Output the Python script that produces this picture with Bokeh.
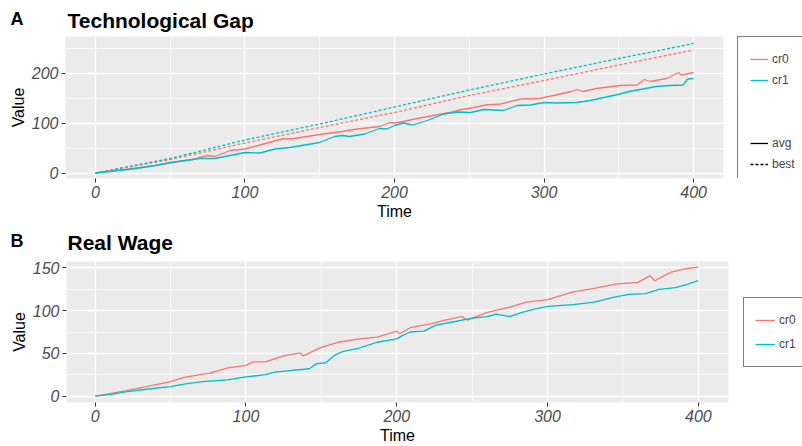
from bokeh.plotting import figure
from bokeh.models import Legend, LegendItem, Label, SingleIntervalTicker, Range1d, Spacer
from bokeh.layouts import column, row
from bokeh.embed import file_html
from bokeh.resources import INLINE

# ---- Panel A: Technological Gap ----
gap_avg_cr0_t = [0, 10, 25, 40, 50, 65, 75, 80, 90, 100, 110, 125, 133, 150, 165, 175, 190, 197, 200,
                 206, 215, 226, 237, 245, 253, 261, 271, 284, 297, 308, 318, 322, 326, 335, 351, 362,
                 367, 371, 382, 390, 392, 400]
gap_avg_cr0_v = [0, 4, 9, 15, 20, 27, 35, 33, 45, 48, 56, 68, 69, 77, 83, 88, 93, 101, 100,
                 103, 109, 115, 121, 127, 131, 136, 138, 148, 149, 156, 163, 167, 163, 169, 175, 176,
                 187, 183, 189, 201, 196, 201]
gap_avg_cr1_t = [0, 10, 25, 40, 50, 60, 70, 80, 90, 100, 110, 120, 130, 140, 150, 160, 165, 170, 180,
                 190, 195, 200, 206, 212, 222, 233, 242, 251, 260, 273, 282, 291, 300, 308, 322, 331,
                 340, 348, 357, 366, 375, 384, 393, 396, 400]
gap_avg_cr1_v = [0, 3, 8, 15, 21, 25, 29, 29, 35, 41, 40, 48, 51, 56, 61, 73, 75, 73, 78,
                 89, 88, 95, 100, 96, 105, 118, 122, 121, 127, 125, 135, 136, 141, 140, 141, 145,
                 151, 156, 163, 168, 173, 175, 176, 188, 189]
gap_best_t = [0, 50, 100, 150, 200, 250, 300, 350, 400]
gap_best_cr0_v = [0, 27, 60, 91, 121, 155, 185, 216, 246]
gap_best_cr1_v = [0, 29, 66, 98, 132, 166, 198, 229, 259]

# ---- Panel B: Real Wage ----
wage_cr0_t = [0, 20, 34, 50, 59, 76, 88, 100, 105, 113, 125, 136, 138, 150, 161, 175, 187, 200, 202,
              209, 224, 232, 243, 247, 260, 275, 286, 300, 317, 331, 345, 360, 368, 371, 382, 391, 400]
wage_cr0_v = [0, 6, 11, 17, 22, 27, 33, 36, 40, 40, 47, 50.5, 47, 57, 63, 67, 69, 76, 73,
              80, 85, 89, 93, 89, 98, 104, 110, 113, 122, 126, 131, 133, 141, 135, 145, 149, 151]
wage_cr1_t = [0, 11, 20, 34, 50, 59, 71, 88, 100, 113, 119, 142, 147, 153, 159, 164, 175, 187, 200,
              204, 209, 218, 226, 238, 249, 260, 266, 275, 283, 292, 300, 317, 331, 345, 354, 365,
              374, 385, 393, 400]
wage_cr1_v = [0, 2, 5, 8, 11, 14, 17, 19, 22.5, 25, 28, 32, 38, 39, 48, 52, 56, 63, 67,
              71, 75, 76, 83, 87, 91, 93, 96, 93, 98, 102, 105, 107, 110, 116, 119, 120,
              125, 127, 131, 135]

series_names = ["cr0", "cr1"]
type_names = ["avg", "best"]
COL = {"cr0": "#F8766D", "cr1": "#00BFC4"}
FONT = "Liberation Sans"
LW = 1.3
DASH = "3 2"
OFF = [-10, -9]  # key-only renderers sit outside the (0, 1) range of legend canvases


def style(p, y_interval):
    p.background_fill_color = "#EBEBEB"
    p.border_fill_color = "white"
    p.outline_line_color = None
    p.xaxis.ticker = SingleIntervalTicker(interval=100, num_minor_ticks=2)
    p.yaxis.ticker = SingleIntervalTicker(interval=y_interval, num_minor_ticks=2)
    for g in (p.xgrid, p.ygrid):
        g.grid_line_color = "white"
        g.grid_line_width = 1.3
        g.minor_grid_line_color = "white"
        g.minor_grid_line_width = 0.7
    for ax in (p.xaxis, p.yaxis):
        ax.axis_line_color = None
        ax.major_tick_line_color = "#333333"
        ax.major_tick_in = 0
        ax.major_tick_out = 4
        ax.minor_tick_line_color = None
        ax.major_label_text_font = FONT
        ax.major_label_text_font_size = "16px"
        ax.major_label_text_font_style = "italic"
        ax.major_label_text_color = "#4D4D4D"
        ax.axis_label_text_font = FONT
        ax.axis_label_text_font_size = "16px"
        ax.axis_label_text_font_style = "normal"
        ax.axis_label_text_color = "black"
        ax.major_label_standoff = 3
        ax.axis_label_standoff = 2
    p.xaxis.axis_label = "Time"
    p.yaxis.axis_label = "Value"


def blank_fig(w, h, xr=(0, 1), yr=(0, 1)):
    f = figure(width=w, height=h, output_backend="svg", toolbar_location=None,
               x_axis_type=None, y_axis_type=None,
               x_range=Range1d(*xr), y_range=Range1d(*yr), min_border=0)
    f.outline_line_color = None
    f.background_fill_color = "white"
    f.border_fill_color = "white"
    return f


def header(h, letter, title, letter_base, title_base):
    f = blank_fig(802, h, (0, 802), (h, 0))
    f.add_layout(Label(x=10, y=letter_base, text=letter, text_baseline="alphabetic",
                       text_font=FONT, text_font_size="18px", text_font_style="bold", text_color="black"))
    f.add_layout(Label(x=67, y=title_base, text=title, text_baseline="alphabetic",
                       text_font=FONT, text_font_size="21px", text_font_style="bold", text_color="black"))
    return f


def legend_style(lg):
    lg.border_line_color = "black"
    lg.border_line_width = 1
    lg.background_fill_color = "white"
    lg.label_text_font = FONT
    lg.label_text_font_size = "12px"
    lg.label_standoff = 4
    lg.margin = 0


# ---------- Section A ----------
hdr_a = header(33, "A", "Technological Gap", 18, 20)

pa = figure(width=737, height=192, output_backend="svg", toolbar_location=None,
            x_range=Range1d(-20, 420), y_range=Range1d(-11, 273),
            min_border_left=65, min_border_right=14, min_border_top=3, min_border_bottom=47)
style(pa, 100)
for s, v in zip(series_names, [gap_best_cr0_v, gap_best_cr1_v]):
    pa.line(gap_best_t, v, line_color=COL[s], line_width=LW, line_dash=DASH)
pa.line(gap_avg_cr0_t, gap_avg_cr0_v, line_color=COL["cr0"], line_width=LW)
pa.line(gap_avg_cr1_t, gap_avg_cr1_v, line_color=COL["cr1"], line_width=LW)

lfa = blank_fig(65, 192)
ka = {s: lfa.line(OFF, OFF, line_color=COL[s], line_width=LW) for s in series_names}
k_blank = lfa.line(OFF, OFF, line_alpha=0)
ka["avg"] = lfa.line(OFF, OFF, line_color="black", line_width=LW)
ka["best"] = lfa.line(OFF, OFF, line_color="black", line_width=LW, line_dash=DASH)
lga = Legend(items=[LegendItem(label="cr0", renderers=[ka["cr0"]]),
                    LegendItem(label="cr1", renderers=[ka["cr1"]]),
                    LegendItem(label=" ", renderers=[k_blank]),
                    LegendItem(label=" ", renderers=[k_blank]),
                    LegendItem(label="avg", renderers=[ka["avg"]]),
                    LegendItem(label="best", renderers=[ka["best"]])],
             location="top_left")
legend_style(lga)
lga.glyph_width = 18
lga.glyph_height = 20
lga.label_height = 20
lga.spacing = 1
lga.padding = 12
lfa.add_layout(lga, "center")

# ---------- Section B ----------
hdr_b = header(36, "B", "Real Wage", 15, 17)

pb = figure(width=743, height=185, output_backend="svg", toolbar_location=None,
            x_range=Range1d(-19, 420), y_range=Range1d(-7.5, 157.5),
            min_border_left=66, min_border_right=15, min_border_top=0, min_border_bottom=43)
style(pb, 50)
pb.line(wage_cr0_t, wage_cr0_v, line_color=COL["cr0"], line_width=LW)
pb.line(wage_cr1_t, wage_cr1_v, line_color=COL["cr1"], line_width=LW)

lfb = blank_fig(59, 149)
kb = {s: lfb.line(OFF, OFF, line_color=COL[s], line_width=LW) for s in series_names}
lgb = Legend(items=[LegendItem(label=s, renderers=[kb[s]]) for s in series_names],
             location="top_left")
legend_style(lgb)
lgb.glyph_width = 20
lgb.glyph_height = 22
lgb.label_height = 22
lgb.spacing = 2
lgb.padding = 11
lfb.add_layout(lgb, "center")

right_b = column(Spacer(width=59, height=36), lfb, spacing=0)

layout = column(hdr_a, row(pa, lfa, spacing=0), hdr_b, row(pb, right_b, spacing=0), spacing=0)
open("out.html", "w").write(file_html(layout, INLINE))
